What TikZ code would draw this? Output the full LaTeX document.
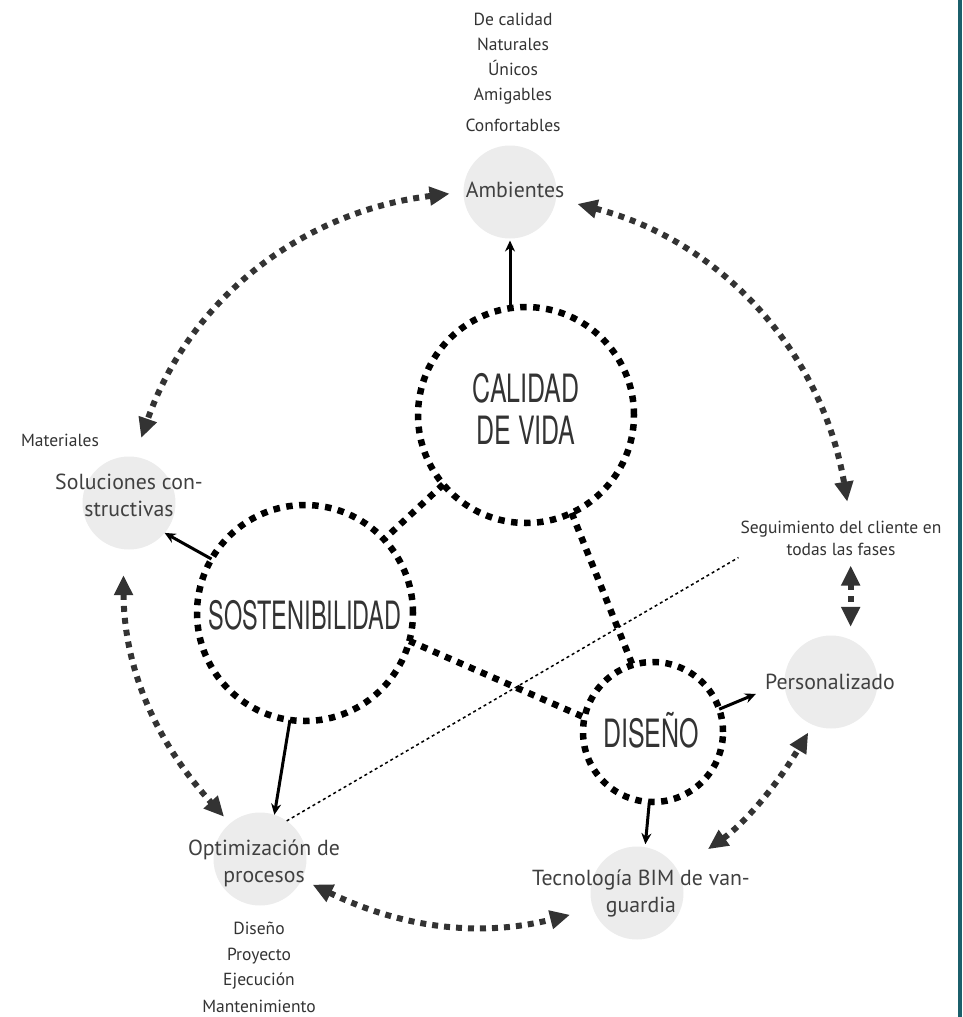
\documentclass[tikz,border=0pt]{standalone}
\usepackage{fontspec}
\setmainfont{PT Sans}
\newfontfamily\headfont[FakeStretch=0.64]{TeX Gyre Heros}
\usepackage{graphicx}
\usetikzlibrary{arrows.meta,positioning,calc}
\definecolor{ink}{HTML}{333333}
\definecolor{txtgray}{HTML}{404040}
\definecolor{bubblegray}{HTML}{ECECEC}
\definecolor{tealbar}{HTML}{1B5F6B}
\tikzset{
  bubble/.style={circle,fill=bubblegray,minimum size=93pt,inner sep=0pt,outer sep=0pt},
  hub/.style={circle,draw=black,line width=6.5pt,dash pattern=on 6.5pt off 6.5pt,
    minimum size=216pt,inner sep=0pt,outer sep=0pt},
  hubtext/.style={text=ink,font=\headfont\fontsize{39}{42}\selectfont,align=center},
  bubbletext/.style={text=txtgray,font=\fontsize{21.8}{27}\selectfont,align=center},
  smalltext/.style={text=ink,font=\fontsize{17.5}{25}\selectfont,align=center,inner sep=2pt},
  ring/.style={draw=ink,line width=6pt,dash pattern=on 6pt off 6pt,
    {Triangle[length=20pt,width=18pt]}-{Triangle[length=20pt,width=18pt]}},
  link/.style={draw=black,line width=6.5pt,dash pattern=on 6.5pt off 6.5pt},
  push/.style={draw=black,line width=3pt,-{Stealth[length=11pt,width=10pt]}},
  hint/.style={draw=black,line width=1.5pt,dash pattern=on 3pt off 3pt}
}
\begin{document}
\begin{tikzpicture}[x=1pt,y=-1pt]
  \useasboundingbox (0,0) rectangle (962,1017);
  \fill[tealbar] (958,0) rectangle (962,1017);

  % outer bubbles
  \node[bubble] (amb) at (510,192) {};
  \node[bubble] (sol) at (129,503) {};
  \node[bubble] (opt) at (260,859) {};
  \node[bubble] (tec) at (637,893) {};
  \node[bubble] (per) at (831,682) {};
  \node[bubbletext] (amb-t) at (515,190) {Ambientes};
  \node[bubbletext] (sol-t) at (129,495) {Soluciones con-\\structivas};
  \node[bubbletext] (opt-t) at (264,863) {Optimización de\\procesos};
  \node[bubbletext] (tec-t) at (641,893) {Tecnología BIM de van-\\guardia};
  \node[bubbletext] (per-t) at (830,682) {Personalizado};

  % notes
  \node[smalltext] (amb-list) at (513,72) {De calidad\\Naturales\\Únicos\\Amigables\\[6pt]Confortables};
  \node[smalltext] (opt-list) at (259,967) {Diseño\\[1pt]Proyecto\\Ejecución\\[2pt]Mantenimiento};
  \node[smalltext] (mat) at (60,440) {Materiales};
  \node[smalltext,font=\fontsize{17.5}{22}\selectfont] (seg) at (841,538) {Seguimiento del cliente en\\todas las fases};

  % hubs
  \node[hub] (cal) at (526,415) {};
  \node[hub] (sos) at (305,613) {};
  \node[hub,minimum size=140pt] (dis) at (653,732) {};
  \node[hubtext] (cal-t) at (526,409) {CALIDAD\\DE VIDA};
  \node[hubtext] (sos-t) at (305,615) {\scalebox{0.94}[1]{SOSTENIBILIDAD}};
  \node[hubtext] (dis-t) at (651,730) {DISEÑO};

  \draw[link] (cal.220) -- (sos.43);
  \draw[link] (cal.-65) -- (dis.107);
  \draw[link] (sos.-15) -- (dis.168);
  \draw[hint] (opt.55) -- (seg.south west);

  \draw[push,shorten >=2pt] (cal.north -| amb.south) -- (amb.south);
  \draw[push] (sos.150) -- (sol.-40);
  \draw[push] (sos.-98) -- (opt.72);
  \draw[push,shorten >=31pt] (dis.19) -- (per.west);
  \draw[push,shorten >=3pt] (dis.-93) -- (tec.80);

  % outer ring
  \draw[ring,shorten <=14pt,shorten >=20pt] (amb.west) to[bend right=32] (sol.83);
  \draw[ring,shorten <=22pt,shorten >=17pt] (amb.-8) to[bend left=33] (seg.65);
  \draw[ring,shorten <=26pt,shorten >=9pt] (sol.-97) to[bend right=21] (opt.130);
  \draw[ring,shorten <=12pt,shorten >=24pt] (opt.-26) to[bend right=20] (tec.-160);
  \draw[ring,shorten <=37pt,shorten >=9pt] (tec.29) to[bend right=12] (per.-113);
  \draw[ring,shorten <=8pt,shorten >=13pt] (seg.south -| per.65) -- (per.65);
\end{tikzpicture}
\end{document}
